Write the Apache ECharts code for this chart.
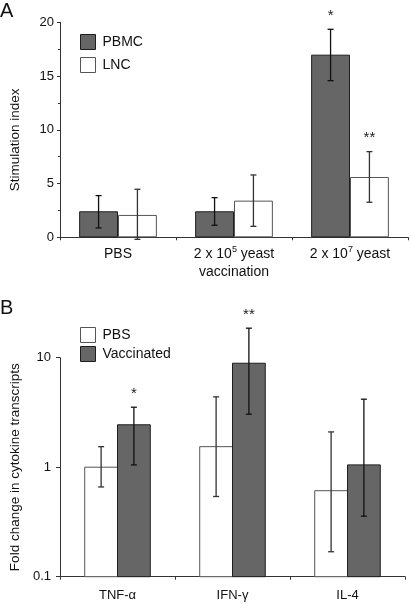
<!DOCTYPE html>
<html><head><meta charset="utf-8">
<script src="https://cdn.jsdelivr.net/npm/echarts@6/dist/echarts.min.js"></script>
<style>html,body{margin:0;padding:0;background:#fff}#c{width:410px;height:604px}</style>
</head><body><div id="c"></div>
<script>
// ---- Panel A data ----
const catsA = ['PBS', '2 x 10^5 yeast\nvaccination', '2 x 10^7 yeast'];
const pbmc = [2.42, 2.42, 16.99];
const pbmcLow = [0.87, 1.12, 14.57];
const pbmcHigh = [3.88, 3.69, 19.35];
const lnc = [2.08, 3.41, 5.61];
const lncLow = [-0.19, 1.02, 3.26];
const lncHigh = [4.47, 5.80, 7.97];
const sigPbmc = ['', '', '*'];
const sigLnc = ['', '', '**'];
const ticksA = [0, 5, 10, 15, 20];
// ---- Panel B data ----
const catsB = ['TNF-α', 'IFN-γ', 'IL-4'];
const pbsB = [1.00, 1.54, 0.61];
const pbsLow = [0.66, 0.54, 0.169];
const pbsHigh = [1.54, 4.39, 2.10];
const vacB = [2.44, 8.9, 1.05];
const vacLow = [1.05, 3.05, 0.357];
const vacHigh = [3.53, 18.6, 4.18];
const sigPbs = ['', '', ''];
const sigVac = ['*', '**', ''];
const ticksB = [0.1, 1, 10];

const FONT = 'Liberation Sans, Arial, sans-serif';
const DARK = '#666666', DARKB = '#1e1e1e', WHITEB = '#555555';
const gapA = 0.33, gapB = 0.43;

function errSeries(xi, yi, lows, highs, sigs, sign, gap, color) {
  return {
    type: 'custom', xAxisIndex: xi, yAxisIndex: yi, clip: false, z: 5,
    data: lows.map((l, i) => [i, l, highs[i]]),
    renderItem: function (params, api) {
      const i = api.value(0);
      const lo = api.coord([i, api.value(1)]);
      const hi = api.coord([i, api.value(2)]);
      const band = api.size([1, 0])[0];
      const bw = band * (1 - gap) / 2;
      const cx = lo[0] + sign * bw / 2;
      const cap = 3;
      const st = { stroke: color, lineWidth: 1.3 };
      const ch = [
        { type: 'line', shape: { x1: cx, y1: lo[1], x2: cx, y2: hi[1] }, style: st },
        { type: 'line', shape: { x1: cx - cap, y1: lo[1], x2: cx + cap, y2: lo[1] }, style: st },
        { type: 'line', shape: { x1: cx - cap, y1: hi[1], x2: cx + cap, y2: hi[1] }, style: st }
      ];
      const s = sigs[params.dataIndex];
      if (s) ch.push({ type: 'text', style: { text: s, x: cx, y: hi[1] - 6, align: 'center', verticalAlign: 'bottom', fontSize: 15, fontFamily: FONT, fill: '#222' } });
      return { type: 'group', children: ch };
    }
  };
}

// bars on the log axis, drawn from the axis minimum up to the value
function logBarSeries(name, values, sign, gap, fill, border) {
  return {
    name: name, type: 'custom', xAxisIndex: 1, yAxisIndex: 1, z: 2,
    data: values.map((v, i) => [i, v]),
    renderItem: function (params, api) {
      const i = api.value(0);
      const top = api.coord([i, api.value(1)]);
      const base = api.coord([i, ticksB[0]]);
      const band = api.size([1, 0])[0];
      const bw = band * (1 - gap) / 2;
      const x0 = sign < 0 ? top[0] - bw : top[0];
      return { type: 'rect', shape: { x: x0, y: top[1], width: bw, height: base[1] - top[1] },
        style: { fill: fill, stroke: border, lineWidth: 1 } };
    }
  };
}

const axisCommon = {
  axisLine: { show: true, lineStyle: { color: '#333', width: 1 } },
  axisTick: { show: true, inside: false, length: 3, lineStyle: { color: '#333' } },
  splitLine: { show: false }
};

const option = {
  animation: false,
  backgroundColor: '#fff',
  textStyle: { fontFamily: FONT },
  graphic: [
    { type: 'text', left: 0, top: 1, style: { text: 'A', fontSize: 20, fontFamily: FONT, fill: '#111' } },
    { type: 'text', left: 0, top: 298, style: { text: 'B', fontSize: 20, fontFamily: FONT, fill: '#111' } }
  ],
  grid: [
    { left: 59, right: 2, top: 22.3, height: 215 },
    { left: 59, right: 5, top: 357.7, height: 219 }
  ],
  legend: [
    { orient: 'vertical', left: 75, top: 29, itemWidth: 15, itemHeight: 15, itemGap: 7, icon: 'rect',
      textStyle: { fontSize: 14, color: '#111', fontFamily: FONT, padding: [0, 0, 0, 2] },
      data: [
        { name: 'PBMC', itemStyle: { color: DARK, borderColor: DARKB, borderWidth: 1 } },
        { name: 'LNC', itemStyle: { color: '#fff', borderColor: WHITEB, borderWidth: 1 } }
      ] },
    { orient: 'vertical', left: 75, top: 322, itemWidth: 15, itemHeight: 15, itemGap: 3, icon: 'rect',
      textStyle: { fontSize: 14, color: '#111', fontFamily: FONT, padding: [0, 0, 0, 2] },
      data: [
        { name: 'PBS', itemStyle: { color: '#fff', borderColor: WHITEB, borderWidth: 1 } },
        { name: 'Vaccinated', itemStyle: { color: DARK, borderColor: DARKB, borderWidth: 1 } }
      ] }
  ],
  xAxis: [
    Object.assign({}, axisCommon, {
      type: 'category', gridIndex: 0, data: catsA,
      axisLabel: { interval: 0, fontSize: 14, color: '#111', margin: 8, lineHeight: 18, fontFamily: FONT,
        formatter: v => v.replace(/\^(\d)/g, '{sup|$1}'),
        rich: { sup: { fontSize: 9, verticalAlign: 'top', lineHeight: 12, fontFamily: FONT, color: '#111' } } }
    }),
    Object.assign({}, axisCommon, {
      type: 'category', gridIndex: 1, data: catsB,
      axisLabel: { interval: 0, fontSize: 13, color: '#111', margin: 12, fontFamily: FONT }
    })
  ],
  yAxis: [
    Object.assign({}, axisCommon, {
      type: 'value', gridIndex: 0, min: ticksA[0], max: ticksA[ticksA.length - 1], interval: 5,
      minorTick: { show: true, splitNumber: 2, length: 2, lineStyle: { color: '#333' } },
      axisLabel: { fontSize: 13, color: '#111', margin: 6, fontFamily: FONT },
      name: 'Stimulation index', nameLocation: 'middle', nameGap: 38,
      nameTextStyle: { fontSize: 13.5, color: '#111', fontFamily: FONT, padding: [0, 20, 0, 0] }
    }),
    Object.assign({}, axisCommon, {
      type: 'log', logBase: 10, gridIndex: 1, min: ticksB[0], max: ticksB[ticksB.length - 1],
      axisTick: { show: true, length: 4, lineStyle: { color: '#333' } },
      axisLabel: { fontSize: 13, color: '#111', margin: 9, fontFamily: FONT, formatter: v => String(+(+v).toPrecision(3)) },
      name: 'Fold change in cytokine transcripts', nameLocation: 'middle', nameGap: 38,
      nameTextStyle: { fontSize: 13.5, color: '#111', fontFamily: FONT }
    })
  ],
  series: [
    { name: 'PBMC', type: 'bar', xAxisIndex: 0, yAxisIndex: 0, data: pbmc, barGap: '0%', barCategoryGap: (gapA * 100) + '%',
      itemStyle: { color: DARK, borderColor: DARKB, borderWidth: 1 } },
    { name: 'LNC', type: 'bar', xAxisIndex: 0, yAxisIndex: 0, data: lnc, barGap: '0%', barCategoryGap: (gapA * 100) + '%',
      itemStyle: { color: '#fff', borderColor: WHITEB, borderWidth: 1 } },
    errSeries(0, 0, pbmcLow, pbmcHigh, sigPbmc, -1, gapA, '#111'),
    errSeries(0, 0, lncLow, lncHigh, sigLnc, 1, gapA, '#333'),
    logBarSeries('PBS', pbsB, -1, gapB, '#fff', WHITEB),
    logBarSeries('Vaccinated', vacB, 1, gapB, DARK, DARKB),
    errSeries(1, 1, pbsLow, pbsHigh, sigPbs, -1, gapB, '#333'),
    errSeries(1, 1, vacLow, vacHigh, sigVac, 1, gapB, '#111')
  ]
};
const chart = echarts.init(document.getElementById('c'), null, { renderer: 'canvas' });
chart.setOption(option);
</script></body></html>
